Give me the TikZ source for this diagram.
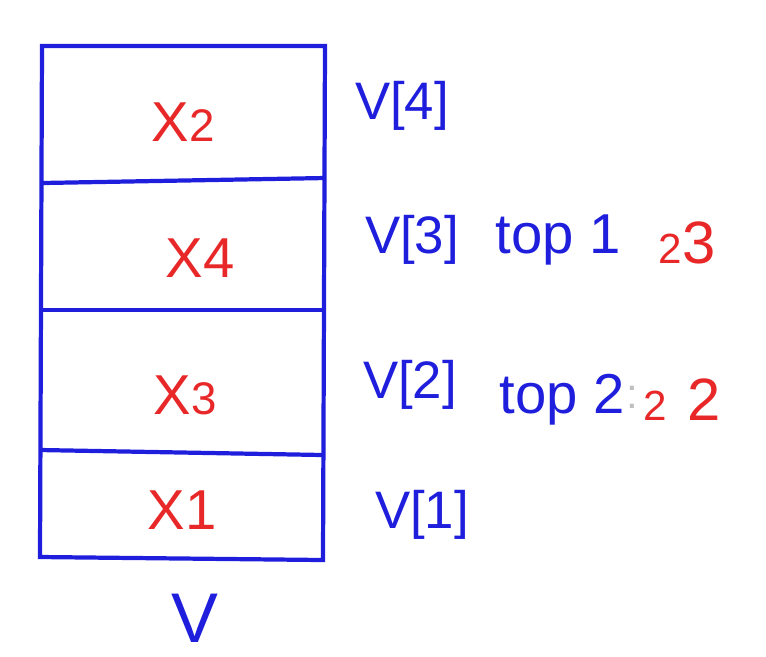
\documentclass[tikz,border=0pt]{standalone}
\usepackage{fontspec}
\setmainfont{Liberation Sans}
\definecolor{penblue}{RGB}{30,30,220}
\definecolor{penred}{RGB}{232,40,40}
\begin{document}
\begin{tikzpicture}[x=0.01cm,y=-0.01cm,
  cellline/.style={draw=penblue,line width=1.2pt},
  xlabel/.style={text=penred,font=\fontsize{16}{18}\selectfont},
  vlabel/.style={text=penblue,font=\fontsize{15}{17}\selectfont},
  toplabel/.style={text=penblue,font=\fontsize{16}{18}\selectfont},
  redtext/.style={text=penred,font=\fontsize{17}{19}\selectfont}]
\useasboundingbox (0,0) rectangle (766,656);
\coordinate (tl) at (42,46);
\coordinate (tr) at (325,46);
\coordinate (bl) at (40,557);
\coordinate (br) at (323,560);
\coordinate (l1) at (42,183);
\coordinate (r1) at (325,178);
\coordinate (l2) at (42,310);
\coordinate (r2) at (325,310);
\coordinate (l3) at (40,450);
\coordinate (r3) at (323,455);
\draw[cellline] (tl) -- (tr) -- (br) -- (bl) -- cycle;
\draw[cellline] (l1) -- (r1);
\draw[cellline] (l2) -- (r2);
\draw[cellline] (l3) -- (r3);
\node[xlabel] (x2) at (183,122) {X{\fontsize{13}{15}\selectfont 2}};
\node[xlabel] (x4) at (200,258) {X4};
\node[xlabel] (x3) at (185,395) {X{\fontsize{13}{15}\selectfont 3}};
\node[xlabel] (x1) at (182,510) {X1};
\node[vlabel] (v4) at (402,106) {V[4]};
\node[vlabel] (v3) at (412,240) {V[3]};
\node[vlabel] (v2) at (410,385) {V[2]};
\node[vlabel] (v1) at (422,515) {V[1]};
\node[toplabel] (t1) at (558,240) {top 1};
\node[redtext] (n1) at (687,243) {{\fontsize{12}{14}\selectfont 2}3};
\node[toplabel] (t2) at (562,400) {top 2};
\node[text=gray!50,font=\fontsize{12}{14}\selectfont] (c2) at (632,397) {:};
\node[redtext] (n2) at (682,400) {{\fontsize{12}{14}\selectfont 2}\,\,2};
\node[vlabel,font=\fontsize{20}{22}\selectfont] (v) at (195,618) {V};
\end{tikzpicture}
\end{document}
